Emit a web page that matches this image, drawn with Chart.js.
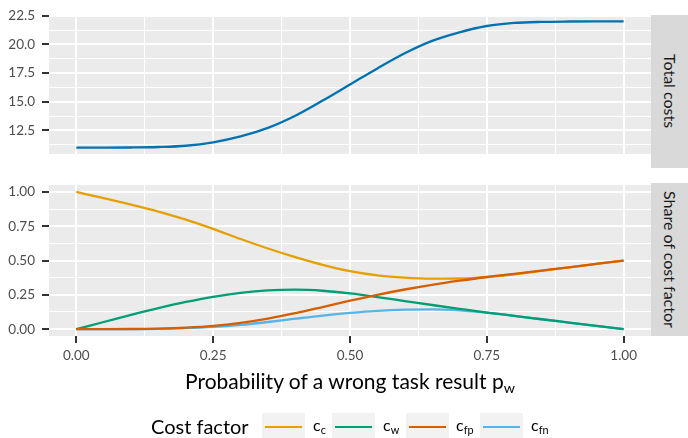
<!DOCTYPE html>
<html>
<head>
<meta charset="utf-8">
<script src="https://cdn.jsdelivr.net/npm/chart.js@4.4.1/dist/chart.umd.min.js"></script>
<style>
  html, body { margin: 0; padding: 0; background: #ffffff; }
  body { position: relative; width: 688px; height: 438px; overflow: hidden; font-family: Lato, "Open Sans", sans-serif; }
  canvas { position: absolute; left: 0; }
  #topChart { top: 0; }
  #shareChart { top: 170px; }
  .strip { position: absolute; left: 651px; width: 37px; background: #D9D9D9; display: flex; align-items: center; justify-content: center; }
  .strip span { writing-mode: vertical-rl; font-size: 16px; color: #1A1A1A; white-space: nowrap; line-height: 1; }
  #xTitle { position: absolute; left: 49px; width: 602px; top: 370px; text-align: center; font-size: 21px; line-height: 21px; color: #000; white-space: nowrap; }
  sub { font-size: 0.68em; vertical-align: -0.25em; line-height: 0; }
  #legend { position: absolute; left: 0; top: 0; width: 688px; height: 438px; pointer-events: none; }
  #legendTitle { position: absolute; left: 151px; top: 416px; font-size: 20px; line-height: 20px; color: #000; white-space: nowrap; }
  .key { position: absolute; top: 413px; width: 43px; height: 28px; background: #F2F2F2; }
  .key i { position: absolute; left: 3px; right: 3px; top: 13px; height: 2.3px; }
  .lab { position: absolute; top: 417px; font-size: 16px; line-height: 16px; color: #000; white-space: nowrap; }
</style>
</head>
<body>
<canvas id="topChart" width="651" height="169"></canvas>
<canvas id="shareChart" width="651" height="200"></canvas>
<div class="strip" style="top:15px;height:153px"><span>Total costs</span></div>
<div class="strip" style="top:183px;height:153px"><span>Share of cost factor</span></div>
<div id="xTitle">Probability of a wrong task result p<sub>w</sub></div>
<div id="legend"><div id="legendTitle">Cost factor</div></div>
<script>
// Probability of a wrong task result
const pw = [0, 0.05, 0.10, 0.15, 0.20, 0.25, 0.30, 0.35, 0.40, 0.45, 0.50,
            0.55, 0.60, 0.65, 0.70, 0.75, 0.80, 0.85, 0.90, 0.95, 1.00];

// Total costs
const totalCosts = [11.00, 11.00, 11.01, 11.05, 11.16, 11.46, 11.97, 12.72, 13.78, 15.10, 16.50,
                    17.90, 19.22, 20.30, 21.05, 21.60, 21.87, 21.96, 21.99, 22.00, 22.00];

// Share of each cost factor
const shareC  = [1.000, 0.955, 0.908, 0.857, 0.798, 0.731, 0.657, 0.588, 0.525, 0.469, 0.423,
                 0.392, 0.375, 0.368, 0.369, 0.379, 0.399, 0.424, 0.450, 0.475, 0.500];
const shareW  = [0.000, 0.052, 0.104, 0.153, 0.198, 0.236, 0.265, 0.283, 0.288, 0.280, 0.260,
                 0.234, 0.205, 0.176, 0.148, 0.121, 0.097, 0.072, 0.048, 0.024, 0.000];
const shareFp = [0.000, 0.000, 0.001, 0.004, 0.011, 0.024, 0.046, 0.077, 0.116, 0.161, 0.207,
                 0.250, 0.289, 0.323, 0.353, 0.380, 0.403, 0.427, 0.451, 0.476, 0.500];
const shareFn = [0.000, 0.000, 0.000, 0.002, 0.007, 0.016, 0.031, 0.052, 0.076, 0.099, 0.118,
                 0.133, 0.142, 0.144, 0.137, 0.121, 0.097, 0.072, 0.048, 0.024, 0.000];

// Legend entries (main + subscript) and colours
const factorMain = ['c', 'c', 'c', 'c'];
const factorSub  = ['c', 'w', 'fp', 'fn'];
const factorColors = ['#E69F00', '#009E73', '#D55E00', '#56B4E9'];
const totalColor = '#0072B2';

// Breaks
const xMajor = [0, 0.25, 0.5, 0.75, 1];
const xMinor = [0.125, 0.375, 0.625, 0.875];
const xLabels = ['0.00', '0.25', '0.50', '0.75', '1.00'];
const totalMajor = [12.5, 15, 17.5, 20, 22.5];
const totalMinor = [11.25, 13.75, 16.25, 18.75, 21.25];
const totalLabels = ['12.5', '15.0', '17.5', '20.0', '22.5'];
const shareMajor = [0, 0.25, 0.5, 0.75, 1];
const shareMinor = [0.125, 0.375, 0.625, 0.875];
const shareLabels = ['0.00', '0.25', '0.50', '0.75', '1.00'];

const tickFont = { family: 'Lato', size: 13.5 };
const near = (a, b) => Math.abs(a - b) < 1e-9;

function gridAxis(major, minor, labels, min, max, opts) {
  const all = major.concat(minor).sort((a, b) => a - b);
  const isMajor = v => major.some(m => near(m, v));
  return {
    type: 'linear',
    min: min,
    max: max,
    afterBuildTicks: s => { s.ticks = all.map(v => ({ value: v })); },
    afterFit: opts.afterFit,
    border: { display: false },
    grid: {
      color: '#FFFFFF',
      lineWidth: c => (c.tick && isMajor(c.tick.value)) ? 2 : 1,
      drawTicks: opts.showTicks,
      tickLength: 7,
      tickWidth: 2,
      tickColor: c => (c.tick && isMajor(c.tick.value)) ? '#333333' : 'rgba(0,0,0,0)'
    },
    ticks: {
      display: opts.showTicks,
      autoSkip: false,
      maxRotation: 0,
      color: '#4D4D4D',
      font: tickFont,
      padding: opts.padding,
      callback: v => {
        const i = major.findIndex(m => near(m, v));
        return i >= 0 ? labels[i] : '';
      }
    }
  };
}

const panelBackground = {
  id: 'panelBackground',
  beforeDraw(chart) {
    const a = chart.chartArea, ctx = chart.ctx;
    ctx.save();
    ctx.fillStyle = '#EBEBEB';
    ctx.fillRect(a.left, a.top, a.right - a.left, a.bottom - a.top);
    ctx.restore();
  }
};

const points = ys => pw.map((x, i) => ({ x: x, y: ys[i] }));
const lineStyle = color => ({
  borderColor: color, backgroundColor: color, borderWidth: 2.3,
  pointRadius: 0, fill: false, cubicInterpolationMode: 'monotone'
});

const baseOptions = (padTop) => ({
  responsive: false,
  animation: false,
  events: [],
  layout: { padding: { top: padTop, left: 0, right: 0, bottom: 0 }, autoPadding: false },
  plugins: { legend: { display: false }, tooltip: { enabled: false } }
});

// Upper panel: total costs
new Chart(document.getElementById('topChart'), {
  type: 'line',
  data: { datasets: [Object.assign({ label: 'Total costs', data: points(totalCosts) }, lineStyle(totalColor))] },
  options: Object.assign(baseOptions(15), {
    scales: {
      x: gridAxis(xMajor, xMinor, xLabels, -0.05, 1.05, {
        showTicks: false, padding: 0, afterFit: s => { s.height = 1; }
      }),
      y: gridAxis(totalMajor, totalMinor, totalLabels, 10.45, 22.55, {
        showTicks: true, padding: 7, afterFit: s => { s.width = 49; }
      })
    }
  }),
  plugins: [panelBackground]
});

// Lower panel: share of each cost factor (first dataset drawn on top)
const drawOrder = [2, 1, 0, 3];
new Chart(document.getElementById('shareChart'), {
  type: 'line',
  data: {
    datasets: drawOrder.map(k => Object.assign(
      { label: factorMain[k] + '_' + factorSub[k], data: points([shareC, shareW, shareFp, shareFn][k]) },
      lineStyle(factorColors[k])))
  },
  options: Object.assign(baseOptions(13), {
    scales: {
      x: gridAxis(xMajor, xMinor, xLabels, -0.05, 1.05, {
        showTicks: true, padding: 5, afterFit: s => { s.height = 34; }
      }),
      y: gridAxis(shareMajor, shareMinor, shareLabels, -0.05, 1.05, {
        showTicks: true, padding: 7, afterFit: s => { s.width = 49; }
      })
    }
  }),
  plugins: [panelBackground]
});

// Legend keys
const keyLeft = [262, 332, 406, 480];
const labLeft = [313, 383, 456, 531];
const legend = document.getElementById('legend');
factorColors.forEach((col, i) => {
  const key = document.createElement('div');
  key.className = 'key';
  key.style.left = keyLeft[i] + 'px';
  const stroke = document.createElement('i');
  stroke.style.background = col;
  key.appendChild(stroke);
  legend.appendChild(key);
  const lab = document.createElement('div');
  lab.className = 'lab';
  lab.style.left = labLeft[i] + 'px';
  lab.innerHTML = factorMain[i] + '<sub>' + factorSub[i] + '</sub>';
  legend.appendChild(lab);
});
</script>
</body>
</html>
